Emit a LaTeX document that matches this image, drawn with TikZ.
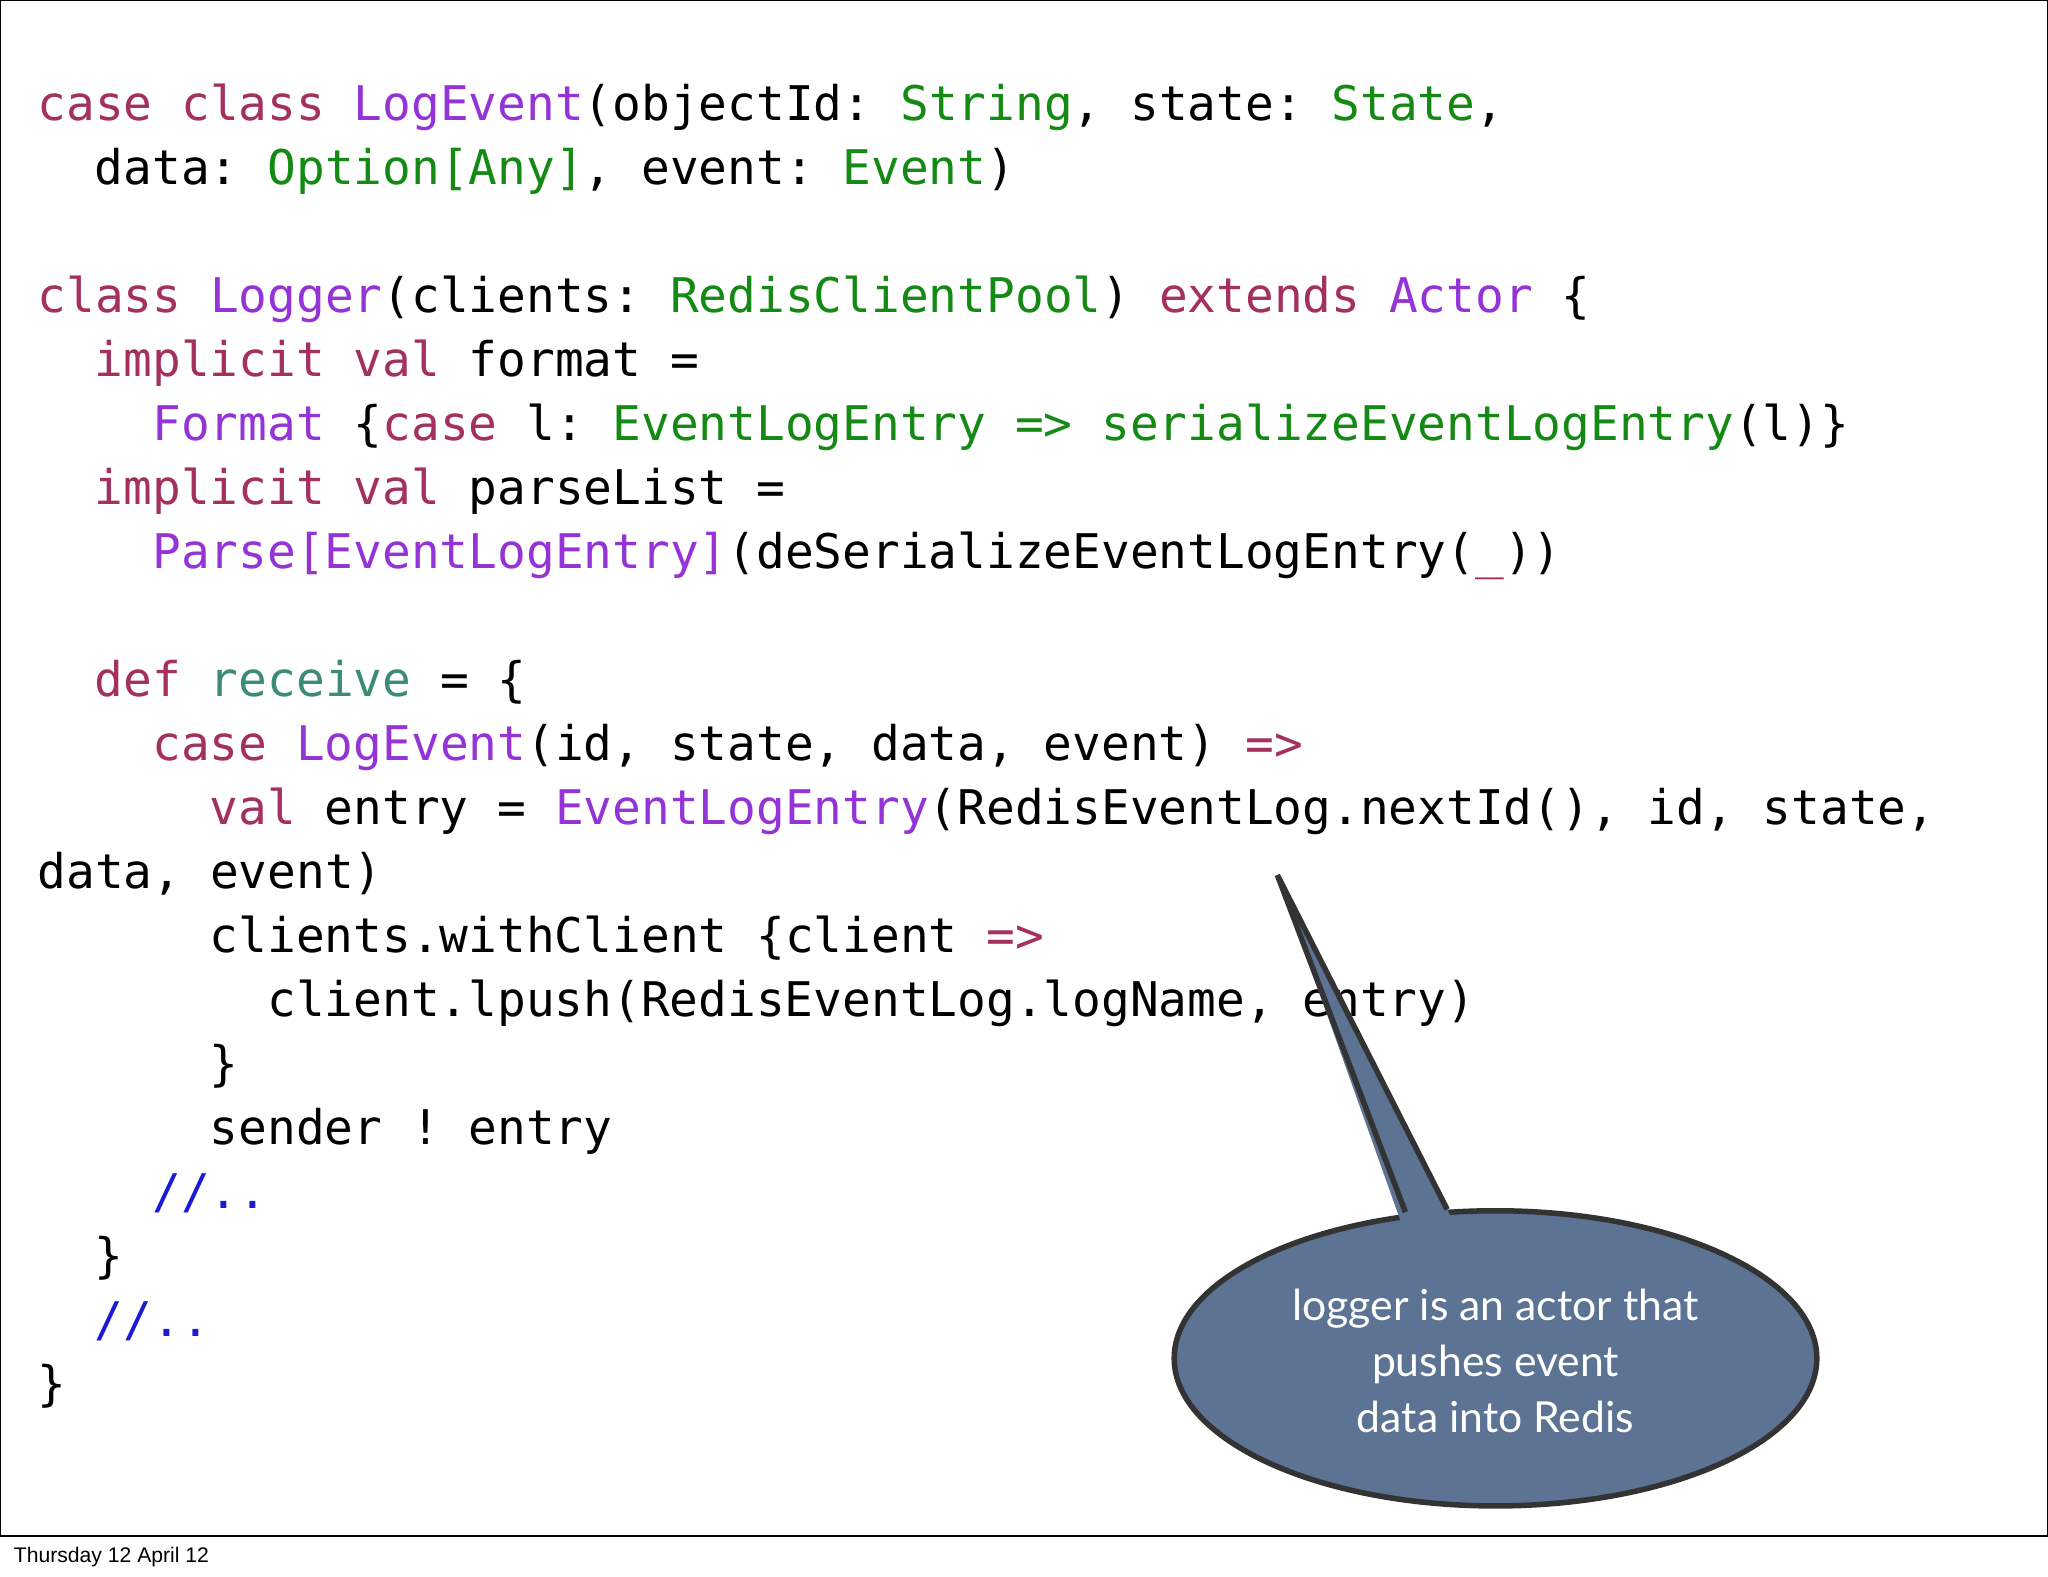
\documentclass[tikz,border=0pt]{standalone}
\usepackage{fontspec}
\setmonofont{DejaVu Sans Mono}
\newfontfamily\callfont{Lato}
\newfontfamily\datefont{Liberation Sans}
\definecolor{kw}{HTML}{A3305F}
\definecolor{ty}{HTML}{9433D6}
\definecolor{gr}{HTML}{148A14}
\definecolor{te}{HTML}{3C8A78}
\definecolor{cm}{HTML}{1A1AD6}
\definecolor{bub}{HTML}{5C7394}
\newcommand{\kw}[1]{\textcolor{kw}{#1}}
\newcommand{\ty}[1]{\textcolor{ty}{#1}}
\newcommand{\gr}[1]{\textcolor{gr}{#1}}
\begin{document}
\begin{tikzpicture}[x=0.01cm,y=-0.01cm,
  code/.style={anchor=base west,inner sep=0pt,font=\ttfamily\fontsize{10.4}{12}\selectfont}]
\useasboundingbox (0,0) rectangle (1568,1207);
\draw[line width=0.6pt] (0,0) rectangle (1568,1176);
\node[anchor=base west,inner sep=0pt,font=\datefont\fontsize{4.6}{5}\selectfont] (date) at (10,1196) {Thursday 12 April 12};
\def\L#1#2#3#4{\node[code] (#1) at (28+22*#2,#3+10) {#4};}
\L{l1}{0}{82}{\kw{case class} \ty{LogEvent}(objectId: \gr{String}, state: \gr{State},}
\L{l2}{2}{131}{data: \gr{Option[Any]}, event: \gr{Event})}
\L{l3}{0}{229}{\kw{class} \ty{Logger}(clients: \gr{RedisClientPool}) \kw{extends} \ty{Actor} \{}
\L{l4}{2}{278}{\kw{implicit val} format =}
\L{l5}{4}{327}{\ty{Format} \{\kw{case} l: \gr{EventLogEntry} \gr{=> serializeEventLogEntry}(l)\}}
\L{l6}{2}{376}{\kw{implicit val} parseList =}
\L{l7}{4}{425}{\ty{Parse[EventLogEntry]}(deSerializeEventLogEntry(\kw{\_}))}
\L{l8}{2}{523}{\kw{def} \textcolor{te}{receive} = \{}
\L{l9}{4}{572}{\kw{case} \ty{LogEvent}(id, state, data, event) \kw{=>}}
\L{l10}{6}{621}{\kw{val} entry = \ty{EventLogEntry}(RedisEventLog.nextId(), id, state,}
\L{l11}{0}{670}{data, event)}
\L{l12}{6}{719}{clients.withClient \{client \kw{=>}}
\L{l13}{8}{768}{client.lpush(RedisEventLog.logName, entry)}
\L{l14}{6}{817}{\}}
\L{l15}{6}{866}{sender ! entry}
\L{l16}{4}{915}{\textcolor{cm}{//..}}
\L{l17}{2}{964}{\}}
\L{l18}{2}{1013}{\textcolor{cm}{//..}}
\L{l19}{0}{1062}{\}}
\coordinate (tip) at (978,670);
\fill[bub,draw=black!80,line width=1.2pt] (1145,1040) ellipse [x radius=246,y radius=113];
\fill[bub] (1072,934) -- (tip) -- (1112,934) -- cycle;
\draw[black!80,line width=1.2pt] (1076,928) -- (tip) -- (1108,926);
\node[text=white,align=center,font=\callfont\fontsize{9.3}{12.2}\selectfont] (call) at (1145,1042) {logger is an actor that\\pushes event\\data into Redis};
\end{tikzpicture}
\end{document}
